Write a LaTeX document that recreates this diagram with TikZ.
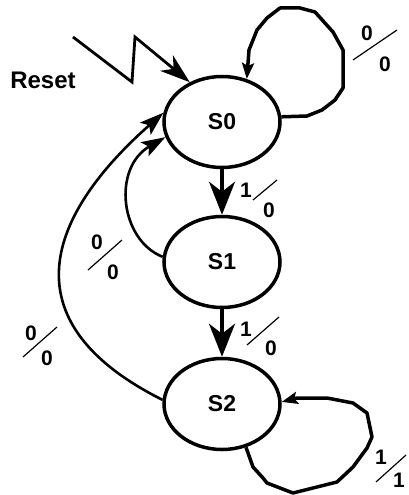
\documentclass[tikz,border=0pt]{standalone}
\usepackage{fontspec}
\setmainfont{Liberation Sans}
\usepackage{tikz}
\usetikzlibrary{arrows.meta, shapes.geometric}

\begin{document}
\begin{tikzpicture}[x=1pt, y=-1pt,
    state/.style={ellipse, draw, line width=3.5pt, minimum width=116pt, minimum height=91pt, inner sep=0pt, font=\fontsize{23}{23}\selectfont\bfseries},
    digit/.style={inner sep=0pt, font=\fontsize{21}{21}\selectfont\bfseries},
    slash/.style={line width=1.2pt},
    step arrow/.style={line width=3.5pt, -{Stealth[length=33pt, width=26pt, inset=10pt]}},
    back arrow/.style={line width=2.6pt, -{Stealth[length=24pt, width=16pt, inset=5pt]}},
    loop line/.style={line width=3.5pt, line join=round, -{Stealth[length=16pt, width=12pt, inset=3pt]}}]
\useasboundingbox (0,0) rectangle (409,495);

% States
\foreach \s/\y in {0/122, 1/262, 2/404}
    \node[state] (S\s) at (222,\y) {S\s};

% Reset input
\node[font=\fontsize{24}{24}\selectfont\bfseries] (reset) at (43,80) {Reset};
\coordinate (rst) at (73,37);
\draw[line width=2.8pt, line join=miter, -{Stealth[length=30pt, width=20pt, inset=9pt]}]
    (rst) -- (132,82) -- (135,37) -- (S0.129);

% Forward transitions
\draw[step arrow] (S0.south) -- (S1.north);
\draw[step arrow] (S1.south) -- (S2.north);

% Back to S0
\draw[back arrow] (S1.175) .. controls (120,240) and (112,168) .. (S0.195);
\draw[back arrow] (S2.176) .. controls (13,325) and (40,222) .. (S0.171);

% Self loops
\draw[loop line] (S0.5) -- (307,116) -- (322,110) -- (335,100) -- (343,88) -- (343,50)
    -- (333,32) -- (315,12) -- (300,8) -- (280,8) -- (267,18) -- (257,30) -- (249,50) -- (S0.60);
\draw[loop line] (S2.299) -- (253,467) -- (263,478) -- (267,483) -- (293,493) -- (337,482)
    -- (353,467) -- (367,448) -- (372,437) -- (367,413) -- (353,403) -- (327,398) -- (297,398) -- (S2.2);

% Input / output labels
\foreach \n/\a/\ax/\ay/\b/\bx/\by/\sx/\sy/\ex/\ey in {
    01/1/246/190/0/269/210/253/200/277/180,
    12/1/246/329/0/271/348/247/345/279/317,
    00/0/367/33/0/385/64/353/60/397/30,
    10/0/97/242/0/113/272/88/270/122/240,
    20/0/31/333/0/47/358/23/357/57/327,
    22/1/381/457/1/399/480/376/482/406/455}
{
    \node[digit] (o\n a) at (\ax,\ay) {\a};
    \node[digit] (o\n b) at (\bx,\by) {\b};
    \draw[slash] (\sx,\sy) -- (\ex,\ey);
}
\end{tikzpicture}
\end{document}
